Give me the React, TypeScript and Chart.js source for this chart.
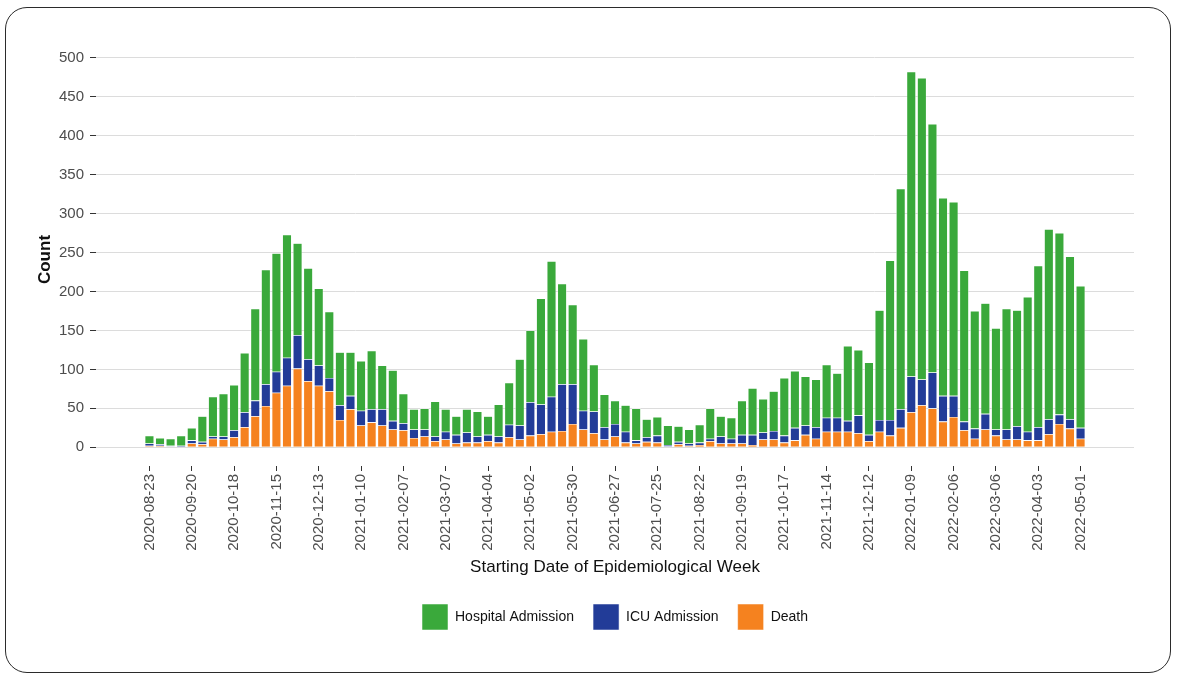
import React, { useEffect, useRef } from "react";
import { Chart, registerables } from "chart.js";

Chart.register(...registerables);

const FONT = "'Liberation Sans', Arial, Helvetica, sans-serif";

// Tick labels: starting dates every 4 weeks (weekly bars from 2020-08-23 to 2022-05-01)
const tickLabels = [
  "2020-08-23", "2020-09-20", "2020-10-18", "2020-11-15", "2020-12-13",
  "2021-01-10", "2021-02-07", "2021-03-07", "2021-04-04", "2021-05-02",
  "2021-05-30", "2021-06-27", "2021-07-25", "2021-08-22", "2021-09-19",
  "2021-10-17", "2021-11-14", "2021-12-12", "2022-01-09", "2022-02-06",
  "2022-03-06", "2022-04-03", "2022-05-01",
];

const yTicks = [0, 50, 100, 150, 200, 250, 300, 350, 400, 450, 500];

// Weekly counts (stack segments), one value per epidemiological week
const death = [
  2, 2, 1, 0, 5, 4, 11, 10, 13, 26,
  40, 53, 70, 79, 101, 85, 79, 72, 35, 49,
  28, 32, 28, 23, 22, 12, 14, 8, 10, 5,
  6, 6, 8, 6, 13, 10, 15, 17, 20, 21,
  30, 23, 18, 10, 14, 6, 5, 7, 6, 1,
  4, 2, 3, 8, 5, 5, 5, 3, 10, 10,
  6, 9, 16, 11, 20, 20, 20, 18, 8, 20,
  15, 25, 45, 54, 50, 33, 39, 22, 11, 23,
  15, 10, 10, 9, 9, 17, 30, 24, 11,
];

const icu = [
  3, 2, 1, 2, 4, 3, 3, 4, 9, 19,
  20, 28, 27, 36, 43, 28, 26, 17, 19, 17,
  19, 17, 21, 11, 9, 11, 9, 6, 10, 11,
  13, 8, 8, 8, 16, 18, 43, 38, 45, 60,
  51, 24, 28, 16, 16, 14, 4, 6, 9, 2,
  3, 3, 3, 3, 9, 6, 11, 13, 9, 11,
  9, 16, 12, 15, 18, 18, 14, 23, 8, 15,
  20, 24, 46, 33, 46, 33, 27, 11, 13, 20,
  8, 13, 17, 11, 17, 19, 12, 12, 14,
];

const hospital = [
  10, 8, 9, 13, 16, 33, 51, 55, 58, 76,
  118, 147, 152, 158, 118, 117, 99, 85, 68, 56,
  64, 75, 56, 65, 38, 26, 27, 45, 29, 24,
  30, 32, 24, 41, 54, 85, 92, 136, 174, 129,
  102, 92, 60, 42, 30, 34, 41, 23, 24, 25,
  20, 18, 23, 39, 26, 27, 44, 60, 43, 51,
  74, 73, 63, 61, 68, 57, 96, 84, 93, 141,
  205, 283, 391, 387, 319, 254, 249, 194, 151, 142,
  130, 155, 149, 173, 207, 244, 233, 209, 182,
];

const COLORS = {
  hospital: "#3AA93B",
  icu: "#223C98",
  death: "#F5821F",
};

const toPoints = (arr: number[]) => arr.map((y, i) => ({ x: i, y }));

export default function App() {
  const canvasRef = useRef<HTMLCanvasElement | null>(null);

  useEffect(() => {
    const canvas = canvasRef.current;
    if (!canvas) return;
    const common = {
      borderColor: "rgba(255,255,255,0.85)",
      borderWidth: 0.6,
      barPercentage: 0.88,
      categoryPercentage: 1.0,
    };
    const chart = new Chart(canvas, {
      type: "bar",
      data: {
        datasets: [
          { label: "Death", data: toPoints(death), backgroundColor: COLORS.death, ...common },
          { label: "ICU Admission", data: toPoints(icu), backgroundColor: COLORS.icu, ...common },
          { label: "Hospital Admission", data: toPoints(hospital), backgroundColor: COLORS.hospital, ...common },
        ],
      } as any,
      options: {
        animation: false,
        responsive: false,
        maintainAspectRatio: false,
        layout: { padding: { left: 0, right: 50, top: 53, bottom: 35 } },
        plugins: {
          tooltip: { enabled: false },
          legend: {
            position: "bottom",
            fullSize: false,
            reverse: true,
            labels: {
              boxWidth: 26,
              boxHeight: 26,
              padding: 19,
              color: "#111",
              font: { size: 14, family: FONT },
            },
          },
        },
        scales: {
          x: {
            type: "linear",
            min: -5.05,
            max: 93.05,
            offset: false,
            stacked: true,
            afterBuildTicks: (axis: any) => {
              axis.ticks = tickLabels.map((_, i) => ({ value: i * 4 }));
            },
            afterFit: (axis: any) => {
              axis.height = 119;
            },
            ticks: {
              autoSkip: false,
              maxRotation: 90,
              minRotation: 90,
              padding: 3,
              color: "#4d4d4d",
              font: { size: 15, family: FONT },
              callback: (v: any) => tickLabels[Math.round(Number(v) / 4)] ?? "",
            },
            grid: {
              offset: false,
              drawOnChartArea: false,
              drawTicks: true,
              tickLength: 5,
              tickColor: "#333",
              color: "#333",
            },
            border: { display: false },
            title: {
              display: true,
              text: "Starting Date of Epidemiological Week",
              color: "#111",
              font: { size: 17, family: FONT },
              padding: { top: 0, bottom: 7 },
            },
          },
          y: {
            stacked: true,
            min: -24,
            max: 506,
            afterBuildTicks: (axis: any) => {
              axis.ticks = yTicks.map((v) => ({ value: v }));
            },
            afterFit: (axis: any) => {
              axis.width = 96;
            },
            ticks: {
              color: "#4d4d4d",
              font: { size: 15, family: FONT },
              padding: 6,
            },
            grid: {
              color: "#dcdcdc",
              tickColor: "#333",
              tickLength: 6,
              lineWidth: 1,
            },
            border: { display: false },
            title: {
              display: true,
              text: "Count",
              color: "#111",
              font: { size: 17, family: FONT, weight: "bold" },
              padding: { top: 35, bottom: 0 },
            },
          },
        },
      } as any,
    });
    return () => chart.destroy();
  }, []);

  return (
    <div
      style={{
        position: "fixed",
        left: 0,
        top: 0,
        width: 1184,
        height: 675,
        background: "#fff",
      }}
    >
      <div
        style={{
          position: "absolute",
          left: 5,
          top: 7,
          width: 1166,
          height: 666,
          border: "1.5px solid #2b2b2b",
          borderRadius: 22,
          boxSizing: "border-box",
        }}
      />
      <canvas
        ref={canvasRef}
        width={1184}
        height={675}
        style={{ position: "absolute", left: 0, top: 0, width: 1184, height: 675 }}
      />
    </div>
  );
}
